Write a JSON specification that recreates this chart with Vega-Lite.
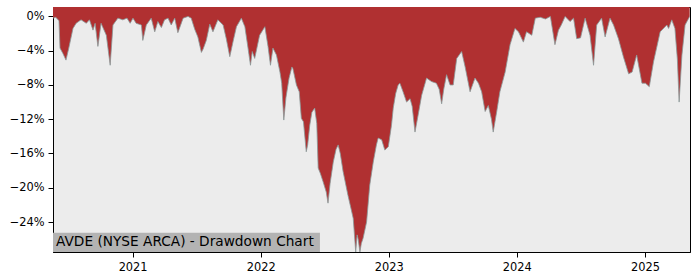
{
  "$schema": "https://vega.github.io/schema/vega-lite/v6.json",
  "width": 637,
  "height": 245,
  "autosize": {"type": "none"},
  "padding": {"left": 53, "top": 7, "right": 10, "bottom": 28},
  "background": "white",
  "config": {
    "view": {"fill": "#ececec", "stroke": "black", "strokeWidth": 1},
    "axis": {
      "labelFont": "DejaVu Sans",
      "labelFontSize": 11.4,
      "labelColor": "black",
      "tickColor": "black",
      "tickSize": 5,
      "labelPadding": 4,
      "domainColor": "black",
      "grid": false,
      "title": null
    }
  },
  "datasets": {
    "dd": [
      {"d": "2020-05-19", "v": -0.2},
      {"d": "2020-05-27", "v": -0.1},
      {"d": "2020-06-05", "v": -0.5},
      {"d": "2020-06-08", "v": -3.7},
      {"d": "2020-06-16", "v": -4.3},
      {"d": "2020-06-25", "v": -5.1},
      {"d": "2020-07-03", "v": -3.7},
      {"d": "2020-07-15", "v": -1.4},
      {"d": "2020-07-24", "v": -0.8},
      {"d": "2020-08-07", "v": -0.4},
      {"d": "2020-08-22", "v": -0.8},
      {"d": "2020-08-31", "v": -0.4},
      {"d": "2020-09-10", "v": -1.6},
      {"d": "2020-09-16", "v": -0.8},
      {"d": "2020-09-24", "v": -3.5},
      {"d": "2020-10-03", "v": -0.8},
      {"d": "2020-10-18", "v": -2.2},
      {"d": "2020-10-29", "v": -5.7},
      {"d": "2020-11-06", "v": -1.0},
      {"d": "2020-11-20", "v": -0.2},
      {"d": "2020-12-04", "v": -0.4},
      {"d": "2020-12-16", "v": -0.2},
      {"d": "2020-12-25", "v": -0.8},
      {"d": "2021-01-02", "v": -0.2},
      {"d": "2021-01-11", "v": -0.8},
      {"d": "2021-01-26", "v": -1.0},
      {"d": "2021-01-30", "v": -2.8},
      {"d": "2021-02-09", "v": -1.0},
      {"d": "2021-02-23", "v": -0.2},
      {"d": "2021-03-05", "v": -1.8},
      {"d": "2021-03-14", "v": -0.6},
      {"d": "2021-03-24", "v": -1.3},
      {"d": "2021-04-02", "v": -0.4},
      {"d": "2021-04-12", "v": -0.2},
      {"d": "2021-04-21", "v": -1.0},
      {"d": "2021-05-01", "v": -0.2},
      {"d": "2021-05-10", "v": -1.9},
      {"d": "2021-05-25", "v": -0.2},
      {"d": "2021-06-08", "v": 0},
      {"d": "2021-06-17", "v": -0.2},
      {"d": "2021-06-27", "v": -1.5},
      {"d": "2021-07-06", "v": -2.4},
      {"d": "2021-07-16", "v": -4.2},
      {"d": "2021-07-21", "v": -3.8},
      {"d": "2021-07-30", "v": -2.8},
      {"d": "2021-08-09", "v": -0.9},
      {"d": "2021-08-18", "v": -1.8},
      {"d": "2021-09-01", "v": -0.4},
      {"d": "2021-09-16", "v": -1.0},
      {"d": "2021-09-25", "v": -2.6},
      {"d": "2021-10-05", "v": -4.7},
      {"d": "2021-10-14", "v": -3.0},
      {"d": "2021-10-24", "v": -1.2},
      {"d": "2021-11-07", "v": -0.2},
      {"d": "2021-11-17", "v": -1.2},
      {"d": "2021-11-26", "v": -3.7},
      {"d": "2021-12-03", "v": -5.7},
      {"d": "2021-12-08", "v": -4.1},
      {"d": "2021-12-15", "v": -4.9},
      {"d": "2021-12-29", "v": -2.2},
      {"d": "2022-01-13", "v": -1.2},
      {"d": "2022-01-22", "v": -3.5},
      {"d": "2022-01-29", "v": -5.7},
      {"d": "2022-02-05", "v": -3.7},
      {"d": "2022-02-15", "v": -4.5},
      {"d": "2022-02-25", "v": -6.5},
      {"d": "2022-03-02", "v": -7.8},
      {"d": "2022-03-08", "v": -12.1},
      {"d": "2022-03-14", "v": -9.5},
      {"d": "2022-03-23", "v": -7.2},
      {"d": "2022-03-31", "v": -5.9},
      {"d": "2022-04-03", "v": -6.1},
      {"d": "2022-04-13", "v": -8.0},
      {"d": "2022-04-21", "v": -8.8},
      {"d": "2022-04-27", "v": -11.9},
      {"d": "2022-05-03", "v": -12.3},
      {"d": "2022-05-11", "v": -15.8},
      {"d": "2022-05-15", "v": -15.0},
      {"d": "2022-05-21", "v": -12.7},
      {"d": "2022-05-27", "v": -11.2},
      {"d": "2022-06-04", "v": -10.7},
      {"d": "2022-06-10", "v": -12.5},
      {"d": "2022-06-14", "v": -17.7},
      {"d": "2022-06-20", "v": -18.3},
      {"d": "2022-06-28", "v": -19.3},
      {"d": "2022-07-07", "v": -20.5},
      {"d": "2022-07-12", "v": -21.8},
      {"d": "2022-07-18", "v": -19.5},
      {"d": "2022-07-27", "v": -17.0},
      {"d": "2022-08-04", "v": -15.5},
      {"d": "2022-08-10", "v": -15.0},
      {"d": "2022-08-16", "v": -16.0},
      {"d": "2022-08-24", "v": -18.1},
      {"d": "2022-09-02", "v": -19.9},
      {"d": "2022-09-07", "v": -20.9},
      {"d": "2022-09-16", "v": -22.5},
      {"d": "2022-09-22", "v": -23.6},
      {"d": "2022-09-29", "v": -27.5},
      {"d": "2022-10-03", "v": -25.5},
      {"d": "2022-10-06", "v": -26.0},
      {"d": "2022-10-11", "v": -27.5},
      {"d": "2022-10-15", "v": -26.5},
      {"d": "2022-10-20", "v": -25.9},
      {"d": "2022-10-30", "v": -24.0},
      {"d": "2022-11-08", "v": -19.7},
      {"d": "2022-11-18", "v": -17.0},
      {"d": "2022-11-27", "v": -15.0},
      {"d": "2022-12-02", "v": -14.2},
      {"d": "2022-12-12", "v": -14.4},
      {"d": "2022-12-21", "v": -15.6},
      {"d": "2022-12-31", "v": -15.2},
      {"d": "2023-01-09", "v": -12.7},
      {"d": "2023-01-14", "v": -10.7},
      {"d": "2023-01-21", "v": -9.0},
      {"d": "2023-01-28", "v": -8.0},
      {"d": "2023-02-02", "v": -7.8},
      {"d": "2023-02-11", "v": -8.8},
      {"d": "2023-02-21", "v": -10.0},
      {"d": "2023-03-03", "v": -9.6},
      {"d": "2023-03-09", "v": -10.5},
      {"d": "2023-03-17", "v": -13.5},
      {"d": "2023-03-26", "v": -11.5},
      {"d": "2023-04-05", "v": -9.2},
      {"d": "2023-04-19", "v": -7.2},
      {"d": "2023-05-03", "v": -7.6},
      {"d": "2023-05-17", "v": -7.8},
      {"d": "2023-05-25", "v": -8.5},
      {"d": "2023-06-01", "v": -10.2},
      {"d": "2023-06-07", "v": -8.5},
      {"d": "2023-06-15", "v": -6.8},
      {"d": "2023-06-25", "v": -8.0},
      {"d": "2023-07-04", "v": -8.0},
      {"d": "2023-07-14", "v": -4.9},
      {"d": "2023-07-28", "v": -4.1},
      {"d": "2023-08-07", "v": -5.9},
      {"d": "2023-08-21", "v": -8.8},
      {"d": "2023-09-04", "v": -7.2},
      {"d": "2023-09-14", "v": -7.8},
      {"d": "2023-09-23", "v": -8.8},
      {"d": "2023-10-03", "v": -11.1},
      {"d": "2023-10-12", "v": -10.4},
      {"d": "2023-10-21", "v": -12.0},
      {"d": "2023-10-26", "v": -13.5},
      {"d": "2023-11-05", "v": -11.1},
      {"d": "2023-11-14", "v": -8.8},
      {"d": "2023-11-29", "v": -6.5},
      {"d": "2023-12-13", "v": -3.3},
      {"d": "2023-12-27", "v": -1.4},
      {"d": "2024-01-06", "v": -1.8},
      {"d": "2024-01-20", "v": -3.0},
      {"d": "2024-01-29", "v": -1.8},
      {"d": "2024-02-13", "v": -2.2},
      {"d": "2024-02-23", "v": -0.2},
      {"d": "2024-03-08", "v": -0.1},
      {"d": "2024-03-23", "v": -0.3},
      {"d": "2024-04-06", "v": 0},
      {"d": "2024-04-19", "v": -3.3},
      {"d": "2024-04-29", "v": -1.6},
      {"d": "2024-05-07", "v": -1.0},
      {"d": "2024-05-18", "v": 0},
      {"d": "2024-06-01", "v": -0.6},
      {"d": "2024-06-11", "v": -0.2},
      {"d": "2024-06-20", "v": -2.6},
      {"d": "2024-07-01", "v": -2.5},
      {"d": "2024-07-14", "v": -0.2},
      {"d": "2024-07-28", "v": -2.2},
      {"d": "2024-08-07", "v": -5.7},
      {"d": "2024-08-16", "v": -1.0},
      {"d": "2024-08-30", "v": -0.2},
      {"d": "2024-09-09", "v": -2.4},
      {"d": "2024-09-23", "v": -0.2},
      {"d": "2024-10-03", "v": -1.0},
      {"d": "2024-10-17", "v": -2.6},
      {"d": "2024-10-31", "v": -4.7},
      {"d": "2024-11-15", "v": -6.7},
      {"d": "2024-11-25", "v": -6.5},
      {"d": "2024-12-08", "v": -4.5},
      {"d": "2024-12-23", "v": -7.8},
      {"d": "2025-01-02", "v": -7.8},
      {"d": "2025-01-13", "v": -8.2},
      {"d": "2025-01-25", "v": -5.3},
      {"d": "2025-02-13", "v": -1.8},
      {"d": "2025-03-04", "v": -1.0},
      {"d": "2025-03-09", "v": -1.4},
      {"d": "2025-03-18", "v": -0.4},
      {"d": "2025-03-27", "v": -1.4},
      {"d": "2025-04-03", "v": -5.0},
      {"d": "2025-04-08", "v": -10.0},
      {"d": "2025-04-16", "v": -4.5},
      {"d": "2025-04-25", "v": -1.0},
      {"d": "2025-05-08", "v": 0}
    ],
    "lbl": [{"label": "AVDE (NYSE ARCA) - Drawdown Chart"}]
  },
  "layer": [
    {
      "data": {"name": "dd"},
      "mark": {"type": "area", "color": "#b03031", "clip": true},
      "encoding": {
        "x": {
          "field": "d",
          "type": "temporal",
          "scale": {
            "domain": ["2020-05-19", "2025-05-09"],
            "nice": false
          },
          "axis": {
            "format": "%Y",
            "formatType": "utc",
            "values": ["2021-01-01", "2022-01-01", "2023-01-01", "2024-01-01", "2025-01-01"]
          }
        },
        "y": {
          "field": "v",
          "type": "quantitative",
          "scale": {"domain": [-27.5, 1.1], "nice": false, "zero": false},
          "axis": {
            "values": [0, -4, -8, -12, -16, -20, -24],
            "labelExpr": "(datum.value < 0 ? '\u2212' : '') + format(abs(datum.value), 'd') + '%'"
          }
        },
        "y2": {"datum": 1.1}
      }
    },
    {
      "data": {"name": "dd"},
      "mark": {"type": "line", "color": "#8a9898", "strokeWidth": 0.8, "clip": true},
      "encoding": {
        "x": {"field": "d", "type": "temporal"},
        "y": {"field": "v", "type": "quantitative"}
      }
    },
    {
      "data": {"name": "lbl"},
      "mark": {"type": "rect", "color": "#b3b3b3"},
      "encoding": {
        "x": {"datum": 1589846400000, "type": "temporal"},
        "x2": {"datum": 1655596800000},
        "y": {"datum": -27.5, "type": "quantitative"},
        "y2": {"datum": -25.25}
      }
    },
    {
      "data": {"name": "lbl"},
      "mark": {"type": "text", "align": "left", "baseline": "middle", "dx": 3, "dy": -10, "font": "DejaVu Sans", "fontSize": 13.7, "color": "black"},
      "encoding": {
        "x": {"datum": "2020-05-19", "type": "temporal"},
        "y": {"datum": -27.5, "type": "quantitative"},
        "text": {"field": "label"}
      }
    }
  ]
}
